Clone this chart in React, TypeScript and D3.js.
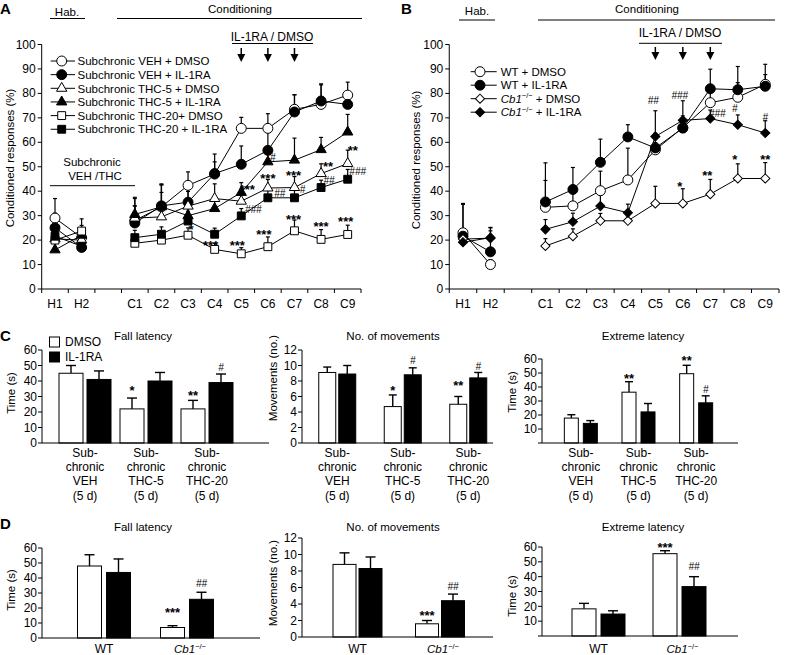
import React from "react";
import * as d3 from "d3";

const FONT = "'Liberation Sans', Arial, Helvetica, sans-serif";

// ---------- Line panels (A, B) ----------
const slots = ["H1", "H2", "gap", "C1", "C2", "C3", "C4", "C5", "C6", "C7", "C8", "C9"];
const days = ["H1", "H2", "C1", "C2", "C3", "C4", "C5", "C6", "C7", "C8", "C9"];
const lineYTicks = [0, 10, 20, 30, 40, 50, 60, 70, 80, 90, 100];

const aLabels = [
  "Subchronic VEH + DMSO",
  "Subchronic VEH + IL-1RA",
  "Subchronic THC-5 + DMSO",
  "Subchronic THC-5 + IL-1RA",
  "Subchronic THC-20+ DMSO",
  "Subchronic THC-20 + IL-1RA",
];
const aVehDmso = [29, 21, 28, 33.6, 42.4, 47, 65.7, 65.7, 73.5, 75.5, 79.3];
const aVehDmsoErr = [8, 3, 6, 9, 5.5, 5, 4.5, 6, 6, 8, 5.3];
const aVehIl = [25, 17, 27, 34, 35.5, 47.2, 51, 56.7, 72.4, 76.9, 75.5];
const aVehIlErr = [6, 3, 10, 9, 6, 8, 7.5, 8, 7, 7, 4];
const aThc5Dmso = [20.5, 20, 29, 29.5, 33.9, 37, 35.9, 41.3, 41.5, 47.2, 51.3];
const aThc5DmsoErr = [4, 4, 5, 10, 6, 6, 5, 3.5, 4.5, 4, 5.5];
const aThc5Il = [16, 22, 30.5, 33.6, 30, 32.9, 39.5, 52, 52.7, 57, 64.2];
const aThc5IlErr = [5, 4, 7, 9, 5, 5, 4, 5, 9, 5, 7.2];
const aThc20Dmso = [20, 23.7, 18.7, 20, 22, 16.2, 14.4, 17.3, 23.8, 20.3, 22.3];
const aThc20DmsoErr = [3, 5, 2, 3, 3, 2.5, 2.5, 4, 4.4, 4, 3.8];
const aThc20Il = [21.6, 17.5, 21, 22.4, 27.8, 22.4, 29.9, 37.3, 37.3, 41.5, 44.9];
const aThc20IlErr = [3, 4, 3, 3, 4, 2.5, 3, 3, 3, 3, 4];

const aNotes = [
  { d: "C9", dx: 5, v: 58, t: "**" },
  { d: "C9", dx: 10, v: 48, t: "###" },
  { d: "C8", dx: 7, v: 51.5, t: "**" },
  { d: "C8", dx: 8, v: 44.5, t: "##" },
  { d: "C7", dx: -1, v: 47.7, t: "***" },
  { d: "C7", dx: 8, v: 40.8, t: "#" },
  { d: "C6", dx: 0, v: 46.5, t: "***" },
  { d: "C6", dx: 12, v: 39, t: "##" },
  { d: "C6", dx: 5, v: 53.7, t: "#" },
  { d: "C5", dx: 6, v: 42.2, t: "***" },
  { d: "C5", dx: 12, v: 32.6, t: "###" },
  { d: "C3", dx: 3, v: 25.5, t: "*" },
  { d: "C4", dx: -4, v: 19.2, t: "***" },
  { d: "C5", dx: -4, v: 19.2, t: "***" },
  { d: "C6", dx: -4, v: 23.7, t: "***" },
  { d: "C7", dx: -1, v: 29.8, t: "***" },
  { d: "C8", dx: 0, v: 27, t: "***" },
  { d: "C9", dx: -2, v: 29, t: "***" },
];

const bLabels = ["WT + DMSO", "WT + IL-1RA", "Cb1 + DMSO", "Cb1 + IL-1RA"];
const bWtDmso = [23, 10, 33.4, 34, 40.2, 44.6, 56.9, 66, 76.2, 78.4, 83.7];
const bWtDmsoErr = [12, 2, 11, 8, 8, 13, 3, 4, 5, 6, 4];
const bWtIl = [21.6, 15.2, 35.6, 40.7, 51.8, 62.2, 57.7, 65.8, 81.9, 81.5, 82.9];
const bWtIlErr = [13, 10, 16, 9, 9.5, 5, 6, 5, 8, 9.5, 9];
const bCbDmso = [20.4, 20.8, 17.6, 21.6, 27.9, 27.9, 35, 35, 38.8, 45.2, 45.2];
const bCbDmsoErr = [3, 3, 3, 3, 3, 2, 7, 6, 6, 6, 6.5];
const bCbIl = [19.1, 21, 24.4, 27.5, 33.9, 31.2, 62.4, 69, 69.7, 67.2, 63.8];
const bCbIlErr = [3, 4, 4, 3.5, 4.5, 3.5, 10.5, 8, 3.5, 4, 5];

const bNotes = [
  { d: "C5", dx: -2, v: 77, t: "##" },
  { d: "C6", dx: -3, v: 79, t: "###" },
  { d: "C7", dx: 7, v: 71.8, t: "###" },
  { d: "C8", dx: -3, v: 74, t: "#" },
  { d: "C9", dx: 0, v: 70, t: "#" },
  { d: "C8", dx: -3, v: 54.3, t: "*" },
  { d: "C9", dx: 0, v: 54.3, t: "**" },
  { d: "C6", dx: -3, v: 43.4, t: "*" },
  { d: "C7", dx: -3, v: 47.9, t: "**" },
];

// ---------- Bar panels (C, D) ----------
const cGroups = ["VEH", "THC-5", "THC-20"];
const cGroupLabels = [
  ["Sub-", "chronic", "VEH", "(5 d)"],
  ["Sub-", "chronic", "THC-5", "(5 d)"],
  ["Sub-", "chronic", "THC-20", "(5 d)"],
];
const cFallDmso = [45, 22, 22];
const cFallDmsoErr = [5, 7, 5.5];
const cFallIl = [41, 40, 39];
const cFallIlErr = [5.5, 5.5, 5.5];
const cMovDmso = [9.1, 4.7, 5.0];
const cMovDmsoErr = [0.7, 1.5, 1.0];
const cMovIl = [8.9, 8.8, 8.4];
const cMovIlErr = [1.1, 0.9, 0.7];
const cExtDmso = [17.8, 36.3, 49.5];
const cExtDmsoErr = [2.4, 7.5, 6];
const cExtIl = [14, 22.2, 28.7];
const cExtIlErr = [2, 6, 5];

const dGroups = ["WT", "Cb1"];
const dFallDmso = [48, 7];
const dFallDmsoErr = [7.5, 1.2];
const dFallIl = [43.7, 25.8];
const dFallIlErr = [9, 4.7];
const dMovDmso = [8.8, 1.6];
const dMovDmsoErr = [1.4, 0.4];
const dMovIl = [8.3, 4.4];
const dMovIlErr = [1.4, 0.8];
const dExtDmso = [18.3, 55.5];
const dExtDmsoErr = [3.7, 2];
const dExtIl = [14.8, 33.3];
const dExtIlErr = [2.2, 6.7];

const ticks60 = [0, 10, 20, 30, 40, 50, 60];
const ticks12 = [0, 2, 4, 6, 8, 10, 12];

type Mk = "circle" | "triangle" | "square" | "diamond";

function markerPath(m: Mk): string {
  if (m === "circle") return d3.symbol(d3.symbolCircle, 78)() as string;
  if (m === "triangle") return d3.symbol(d3.symbolTriangle, 46)() as string;
  if (m === "square") return d3.symbol(d3.symbolSquare, 62)() as string;
  return d3.symbol(d3.symbolSquare, 42)() as string;
}

function Marker({ x, y, m, f }: { x: number; y: number; m: Mk; f: boolean }) {
  const rot = m === "diamond" ? " rotate(45)" : "";
  return (
    <path
      d={markerPath(m)}
      transform={`translate(${x},${y})${rot}`}
      fill={f ? "#000" : "#fff"}
      stroke="#000"
      strokeWidth={1}
    />
  );
}

function Sig({ x, yc, t }: { x: number; yc: number; t: string }) {
  const star = t.includes("*");
  const fs = star ? 13 : 10;
  return (
    <text
      x={x}
      y={yc + (star ? 0.6 * fs : 0.36 * fs)}
      textAnchor="middle"
      fontSize={fs}
      fontWeight={star ? "bold" : "normal"}
      fontStyle={star ? "normal" : "italic"}
      fill="#000"
    >
      {t}
    </text>
  );
}

function Cb1Label({ x, y, rest, anchor }: { x: number; y: number; rest: string; anchor?: string }) {
  return (
    <text x={x} y={y} fontSize={11.5} textAnchor={anchor || "start"}>
      <tspan fontStyle="italic">Cb1</tspan>
      <tspan fontSize={7.5} dy={-4.5}>−/−</tspan>
      <tspan dy={4.5}>{rest}</tspan>
    </text>
  );
}

type Series = { v: number[]; e: number[]; m: Mk; f: boolean };

function LinePanel({
  xr,
  yr,
  series,
  notes,
}: {
  xr: [number, number];
  yr: [number, number];
  series: Series[];
  notes: { d: string; dx: number; v: number; t: string }[];
}) {
  const x = d3.scaleBand<string>().domain(slots).range(xr);
  const y = d3.scaleLinear().domain([0, 100]).range(yr);
  const cx = (d: string) => (x(d) as number) + x.bandwidth() / 2;
  const line = d3
    .line<[string, number]>()
    .x((d) => cx(d[0]))
    .y((d) => y(d[1]));
  const segs = (vals: number[]) => [
    days.slice(0, 2).map((d, i) => [d, vals[i]] as [string, number]),
    days.slice(2).map((d, i) => [d, vals[i + 2]] as [string, number]),
  ];
  const boundaries = slots.map((s) => x(s) as number).concat([xr[1]]);
  return (
    <g>
      <line x1={xr[0]} x2={xr[0]} y1={y(0)} y2={y(100)} stroke="#000" />
      {lineYTicks.map((t) => (
        <g key={"yt" + t}>
          <line x1={xr[0] - 4} x2={xr[0]} y1={y(t)} y2={y(t)} stroke="#000" />
          <text x={xr[0] - 6} y={y(t) + 4} textAnchor="end" fontSize={12}>
            {t}
          </text>
        </g>
      ))}
      <line x1={xr[0]} x2={xr[1]} y1={y(0)} y2={y(0)} stroke="#000" />
      {boundaries.map((b, i) => (
        <line key={"xb" + i} x1={b} x2={b} y1={y(0)} y2={y(0) + 4} stroke="#000" />
      ))}
      {days.map((d) => (
        <text key={"xl" + d} x={cx(d)} y={y(0) + 19} textAnchor="middle" fontSize={12}>
          {d}
        </text>
      ))}
      {series.map((s, si) =>
        segs(s.v).map((sg, gi) => (
          <path key={`l${si}-${gi}`} d={line(sg) as string} fill="none" stroke="#000" strokeWidth={1} />
        ))
      )}
      {series.map((s, si) =>
        days.map((d, i) => (
          <g key={`e${si}-${i}`}>
            <line x1={cx(d)} x2={cx(d)} y1={y(s.v[i])} y2={y(s.v[i] + s.e[i])} stroke="#000" strokeWidth={1.2} />
            <line x1={cx(d) - 2} x2={cx(d) + 2} y1={y(s.v[i] + s.e[i])} y2={y(s.v[i] + s.e[i])} stroke="#000" strokeWidth={1.2} />
          </g>
        ))
      )}
      {series.map((s, si) =>
        days.map((d, i) => <Marker key={`m${si}-${i}`} x={cx(d)} y={y(s.v[i])} m={s.m} f={s.f} />)
      )}
      {notes.map((n, i) => (
        <Sig key={"n" + i} x={cx(n.d) + n.dx} yc={y(n.v)} t={n.t} />
      ))}
    </g>
  );
}

function Arrow({ x, y1, y2 }: { x: number; y1: number; y2: number }) {
  return (
    <g>
      <line x1={x} x2={x} y1={y1} y2={y2 - 6} stroke="#000" strokeWidth={1.5} />
      <path d={`M${x - 4},${y2 - 8} L${x + 4},${y2 - 8} L${x},${y2} Z`} fill="#000" />
    </g>
  );
}

type BarSpec = {
  axisX: number;
  axisEnd: number;
  y0: number;
  yTop: number;
  yMax: number;
  ticks: number[];
  showZero: boolean;
  groupRange: [number, number];
  groups: string[];
  bw: number;
  gap: number;
  dmso: number[];
  dmsoErr: number[];
  il: number[];
  ilErr: number[];
  notes: { g: number; s: number; v: number; t: string }[];
};

function BarPanel(p: BarSpec) {
  const gx = d3.scaleBand<string>().domain(p.groups).range(p.groupRange);
  const y = d3.scaleLinear().domain([0, p.yMax]).range([p.y0, p.yTop]);
  const gc = (i: number) => (gx(p.groups[i]) as number) + gx.bandwidth() / 2;
  const bx = (i: number, s: number) => (s === 0 ? gc(i) - p.gap / 2 - p.bw : gc(i) + p.gap / 2);
  const capW = p.bw > 20 ? 5 : 4;
  const bars: { i: number; s: number; v: number; e: number }[] = [];
  p.groups.forEach((_, i) => {
    bars.push({ i, s: 0, v: p.dmso[i], e: p.dmsoErr[i] });
    bars.push({ i, s: 1, v: p.il[i], e: p.ilErr[i] });
  });
  return (
    <g>
      {bars.map((b, k) => {
        const xc = bx(b.i, b.s) + p.bw / 2;
        return (
          <g key={"eb" + k}>
            <line x1={xc} x2={xc} y1={y(b.v)} y2={y(b.v + b.e)} stroke="#000" strokeWidth={1.4} />
            <line x1={xc - capW} x2={xc + capW} y1={y(b.v + b.e)} y2={y(b.v + b.e)} stroke="#000" strokeWidth={1.4} />
          </g>
        );
      })}
      {bars.map((b, k) => (
        <rect
          key={"b" + k}
          x={bx(b.i, b.s)}
          y={y(b.v)}
          width={p.bw}
          height={p.y0 - y(b.v)}
          fill={b.s === 0 ? "#fff" : "#000"}
          stroke="#000"
          strokeWidth={1}
        />
      ))}
      <line x1={p.axisX} x2={p.axisX} y1={p.y0} y2={p.yTop} stroke="#000" />
      {p.ticks.map((t) => (
        <g key={"t" + t}>
          <line x1={p.axisX - 4} x2={p.axisX} y1={y(t)} y2={y(t)} stroke="#000" />
          {(t !== 0 || p.showZero) && (
            <text x={p.axisX - 5} y={y(t) + 4.3} textAnchor="end" fontSize={12}>
              {t}
            </text>
          )}
        </g>
      ))}
      <line x1={p.axisX} x2={p.axisEnd} y1={p.y0} y2={p.y0} stroke="#000" />
      {p.notes.map((n, k) => (
        <Sig key={"s" + k} x={bx(n.g, n.s) + p.bw / 2} yc={y(n.v)} t={n.t} />
      ))}
    </g>
  );
}

function YLabel({ x, y, t }: { x: number; y: number; t: string }) {
  return (
    <text transform={`translate(${x},${y}) rotate(-90)`} textAnchor="middle" fontSize={11.5}>
      {t}
    </text>
  );
}

function CGroupLabels({ centers }: { centers: number[] }) {
  return (
    <g>
      {centers.map((c, i) =>
        cGroupLabels[i].map((s, j) => (
          <text key={`${i}-${j}`} x={c} y={457 + j * 14.2} textAnchor="middle" fontSize={12}>
            {s}
          </text>
        ))
      )}
    </g>
  );
}

export default function App() {
  const aSeries: Series[] = [
    { v: aVehDmso, e: aVehDmsoErr, m: "circle", f: false },
    { v: aVehIl, e: aVehIlErr, m: "circle", f: true },
    { v: aThc5Dmso, e: aThc5DmsoErr, m: "triangle", f: false },
    { v: aThc5Il, e: aThc5IlErr, m: "triangle", f: true },
    { v: aThc20Dmso, e: aThc20DmsoErr, m: "square", f: false },
    { v: aThc20Il, e: aThc20IlErr, m: "square", f: true },
  ];
  const bSeries: Series[] = [
    { v: bWtDmso, e: bWtDmsoErr, m: "circle", f: false },
    { v: bWtIl, e: bWtIlErr, m: "circle", f: true },
    { v: bCbDmso, e: bCbDmsoErr, m: "diamond", f: false },
    { v: bCbIl, e: bCbIlErr, m: "diamond", f: true },
  ];

  const cLeft: BarSpec = {
    axisX: 42, axisEnd: 269, y0: 443, yTop: 350, yMax: 60, ticks: ticks60, showZero: true,
    groupRange: [54.5, 237.5], groups: cGroups, bw: 24, gap: 4,
    dmso: cFallDmso, dmsoErr: cFallDmsoErr, il: cFallIl, ilErr: cFallIlErr,
    notes: [
      { g: 1, s: 0, v: 36, t: "*" },
      { g: 2, s: 0, v: 33, t: "**" },
      { g: 2, s: 1, v: 49, t: "#" },
    ],
  };
  const cMid: BarSpec = {
    axisX: 302, axisEnd: 493, y0: 443, yTop: 350, yMax: 12, ticks: ticks12, showZero: true,
    groupRange: [304.5, 501], groups: cGroups, bw: 17, gap: 3,
    dmso: cMovDmso, dmsoErr: cMovDmsoErr, il: cMovIl, ilErr: cMovIlErr,
    notes: [
      { g: 1, s: 0, v: 7.2, t: "*" },
      { g: 1, s: 1, v: 10.7, t: "#" },
      { g: 2, s: 0, v: 7.9, t: "**" },
      { g: 2, s: 1, v: 9.9, t: "#" },
    ],
  };
  const cRight: BarSpec = {
    axisX: 542, axisEnd: 738, y0: 443, yTop: 359, yMax: 60, ticks: ticks60, showZero: false,
    groupRange: [552, 725], groups: cGroups, bw: 14, gap: 5,
    dmso: cExtDmso, dmsoErr: cExtDmsoErr, il: cExtIl, ilErr: cExtIlErr,
    notes: [
      { g: 1, s: 0, v: 48.7, t: "**" },
      { g: 2, s: 0, v: 61.5, t: "**" },
      { g: 2, s: 1, v: 38.6, t: "#" },
    ],
  };
  const dLeft: BarSpec = {
    axisX: 42, axisEnd: 260, y0: 638, yTop: 548, yMax: 60, ticks: ticks60, showZero: true,
    groupRange: [62.5, 228.5], groups: dGroups, bw: 24, gap: 5,
    dmso: dFallDmso, dmsoErr: dFallDmsoErr, il: dFallIl, ilErr: dFallIlErr,
    notes: [
      { g: 1, s: 0, v: 19, t: "***" },
      { g: 1, s: 1, v: 36.4, t: "##" },
    ],
  };
  const dMid: BarSpec = {
    axisX: 302, axisEnd: 493, y0: 637, yTop: 538, yMax: 12, ticks: ticks12, showZero: true,
    groupRange: [316.25, 481.25], groups: dGroups, bw: 23, gap: 3,
    dmso: dMovDmso, dmsoErr: dMovDmsoErr, il: dMovIl, ilErr: dMovIlErr,
    notes: [
      { g: 1, s: 0, v: 3.0, t: "***" },
      { g: 1, s: 1, v: 6.1, t: "##" },
    ],
  };
  const dRight: BarSpec = {
    axisX: 542, axisEnd: 738, y0: 636, yTop: 547, yMax: 60, ticks: ticks60, showZero: false,
    groupRange: [558, 720], groups: dGroups, bw: 24, gap: 5,
    dmso: dExtDmso, dmsoErr: dExtDmsoErr, il: dExtIl, ilErr: dExtIlErr,
    notes: [
      { g: 1, s: 0, v: 61.6, t: "***" },
      { g: 1, s: 1, v: 47, t: "##" },
    ],
  };

  const bandCenters = (spec: BarSpec) => {
    const gx = d3.scaleBand<string>().domain(spec.groups).range(spec.groupRange);
    return spec.groups.map((g) => (gx(g) as number) + gx.bandwidth() / 2);
  };

  const aX = d3.scaleBand<string>().domain(slots).range([41.7, 361]);
  const bX = d3.scaleBand<string>().domain(slots).range([449.25, 779]);
  const aC = (d: string) => (aX(d) as number) + aX.bandwidth() / 2;
  const bC = (d: string) => (bX(d) as number) + bX.bandwidth() / 2;

  const aMarkers: Mk[] = ["circle", "circle", "triangle", "triangle", "square", "square"];
  const bMarkers: Mk[] = ["circle", "circle", "diamond", "diamond"];

  return (
    <svg
      width={791}
      height={655}
      viewBox="0 0 791 655"
      style={{ position: "absolute", left: 0, top: 0, background: "#fff" }}
      fontFamily={FONT}
    >
      <rect x={0} y={0} width={791} height={655} fill="#fff" />

      {/* ===== Panel A ===== */}
      <text x={0} y={14} fontSize={15} fontWeight={900}>A</text>
      <text x={67} y={16} textAnchor="middle" fontSize={11.5}>Hab.</text>
      <line x1={50} x2={85} y1={18.5} y2={18.5} stroke="#000" />
      <text x={240} y={12.5} textAnchor="middle" fontSize={11.5}>Conditioning</text>
      <line x1={117} x2={362} y1={18.5} y2={18.5} stroke="#000" />
      <text x={272} y={41} textAnchor="middle" fontSize={12}>IL-1RA / DMSO</text>
      <line x1={232} x2={313} y1={43.5} y2={43.5} stroke="#000" />
      {["C5", "C6", "C7"].map((d) => (
        <Arrow key={"aa" + d} x={aC(d)} y1={48} y2={62} />
      ))}
      <YLabel x={14} y={158} t="Conditioned responses (%)" />
      <text x={92} y={166} textAnchor="middle" fontSize={11.5}>Subchronic</text>
      <text x={95} y={180} textAnchor="middle" fontSize={11.5}>VEH /THC</text>
      <line x1={50} x2={135} y1={185.7} y2={185.7} stroke="#000" />
      {aLabels.map((l, i) => {
        const yy = 61 + i * 13.65;
        return (
          <g key={"al" + i}>
            <line x1={50.7} x2={75} y1={yy} y2={yy} stroke="#000" />
            <Marker x={61.7} y={yy} m={aMarkers[i]} f={i % 2 === 1} />
            <text x={77.5} y={yy + 4.2} fontSize={11.5}>{l}</text>
          </g>
        );
      })}
      <LinePanel xr={[41.7, 361]} yr={[289, 44.5]} series={aSeries} notes={aNotes} />

      {/* ===== Panel B ===== */}
      <text x={401} y={14} fontSize={15} fontWeight={900}>B</text>
      <text x={477} y={15} textAnchor="middle" fontSize={11.5}>Hab.</text>
      <line x1={459} x2={495} y1={20} y2={20} stroke="#000" />
      <text x={647} y={12.5} textAnchor="middle" fontSize={11.5}>Conditioning</text>
      <line x1={538} x2={775} y1={20} y2={20} stroke="#000" />
      <text x={680} y={36.5} textAnchor="middle" fontSize={12}>IL-1RA / DMSO</text>
      <line x1={639} x2={722} y1={43.3} y2={43.3} stroke="#000" />
      {["C5", "C6", "C7"].map((d) => (
        <Arrow key={"ba" + d} x={bC(d)} y1={47} y2={60} />
      ))}
      <YLabel x={420} y={160} t="Conditioned responses (%)" />
      {bLabels.map((l, i) => {
        const yy = 71.7 + i * 13.5;
        return (
          <g key={"bl" + i}>
            <line x1={470.7} x2={496.7} y1={yy} y2={yy} stroke="#000" />
            <Marker x={480} y={yy} m={bMarkers[i]} f={i % 2 === 1} />
            {i < 2 ? (
              <text x={500.7} y={yy + 4.2} fontSize={11.5}>{l}</text>
            ) : (
              <Cb1Label x={500.7} y={yy + 4.2} rest={l.replace("Cb1", "")} />
            )}
          </g>
        );
      })}
      <LinePanel xr={[449.25, 779]} yr={[289, 44.5]} series={bSeries} notes={bNotes} />

      {/* ===== Panel C ===== */}
      <text x={0} y={341} fontSize={15} fontWeight={900}>C</text>
      <rect x={49.5} y={337} width={10} height={10} fill="#fff" stroke="#000" />
      <text x={65} y={346} fontSize={12}>DMSO</text>
      <rect x={49.5} y={352} width={10} height={10} fill="#000" stroke="#000" />
      <text x={65} y={361} fontSize={12}>IL-1RA</text>
      <text x={143} y={340} textAnchor="middle" fontSize={11.5}>Fall latency</text>
      <text x={393} y={340} textAnchor="middle" fontSize={11.5}>No. of movements</text>
      <text x={643} y={340} textAnchor="middle" fontSize={11.5}>Extreme latency</text>
      <YLabel x={15} y={393} t="Time (s)" />
      <YLabel x={277} y={378} t="Movements (no.)" />
      <YLabel x={516} y={392} t="Time (s)" />
      <BarPanel {...cLeft} />
      <BarPanel {...cMid} />
      <BarPanel {...cRight} />
      <CGroupLabels centers={bandCenters(cLeft)} />
      <CGroupLabels centers={bandCenters(cMid)} />
      <CGroupLabels centers={bandCenters(cRight)} />

      {/* ===== Panel D ===== */}
      <text x={0} y={529} fontSize={15} fontWeight={900}>D</text>
      <text x={143} y={530.5} textAnchor="middle" fontSize={11.5}>Fall latency</text>
      <text x={393} y={530.5} textAnchor="middle" fontSize={11.5}>No. of movements</text>
      <text x={643} y={530.5} textAnchor="middle" fontSize={11.5}>Extreme latency</text>
      <YLabel x={15} y={590} t="Time (s)" />
      <YLabel x={277} y={583} t="Movements (no.)" />
      <YLabel x={516} y={596} t="Time (s)" />
      <BarPanel {...dLeft} />
      <BarPanel {...dMid} />
      <BarPanel {...dRight} />
      {[dLeft, dMid, dRight].map((spec, k) => {
        const c = bandCenters(spec);
        return (
          <g key={"dl" + k}>
            <text x={c[0]} y={653} textAnchor="middle" fontSize={12}>WT</text>
            <Cb1Label x={c[1] + 3} y={653} rest="" anchor="middle" />
          </g>
        );
      })}
    </svg>
  );
}
